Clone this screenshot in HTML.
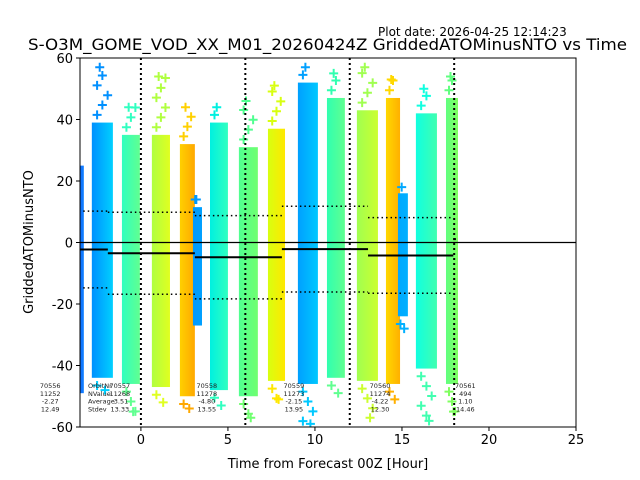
<!DOCTYPE html>
<html><head><meta charset="utf-8"><style>
body{margin:0;background:#fff}
svg{display:block;font-family:"DejaVu Sans","Liberation Sans",sans-serif}
</style></head><body>
<svg id="chart" width="640" height="480" viewBox="0 0 640 480">
<rect width="640" height="480" fill="#fff"/>
<text x="378" y="36" font-size="12">Plot date: 2026-04-25 12:14:23</text>
<text x="28" y="50" font-size="16" textLength="599" lengthAdjust="spacingAndGlyphs">S-O3M_GOME_VOD_XX_M01_20260424Z GriddedATOMinusNTO vs Time</text>
<defs><clipPath id="pa"><rect x="80" y="58" width="496" height="369"/></clipPath></defs>
<g id="marks" clip-path="url(#pa)"></g>
<g id="overlay" clip-path="url(#pa)"></g>
<g id="labels"></g>
<g id="axes"></g>
<text x="328" y="468" font-size="13" text-anchor="middle">Time from Forecast 00Z [Hour]</text>
<text transform="translate(33,242) rotate(-90)" font-size="13" text-anchor="middle">GriddedATOMinusNTO</text>
</svg>
<script>
// stripe data: start hour, end hour, dense top, dense bottom, max outlier, min outlier
const stripeStart=[-3.5,-2.82,-1.09,0.63,2.24,2.99,3.97,5.63,7.30,9.02,10.69,12.41,14.08,14.77,15.80,17.53];
const stripeEnd=[-3.28,-1.61,-0.06,1.67,3.10,3.51,5.0,6.72,8.28,10.17,11.72,13.62,14.89,15.34,17.01,18.22];
const stripeTop=[25,39,35,35,32,11.5,39,31,37,52,47,43,47,16,42,47];
const stripeBottom=[-49,-44,-46,-47,-50,-27,-48,-50,-45,-46,-44,-45,-46,-24,-41,-46];
const stripeMax=[25,57,44,54,44,14,44,46,51,57,55,57,53,18,50,54];
const stripeMin=[-49,-48,-55,-52,-54,-28,-53,-57,-51,-59,-49,-57,-51,-28,-58,-55];
const stripeColorA=["#1070ff","#0090ff","#30ffc0","#b0ff40","#ffd000","#0099ff","#00f0e0","#50ff90","#d8ff10","#00a0ff","#30ffb0","#a0ff50","#ffd800","#00a8ff","#10ffe0","#60ff80"];
const stripeColorB=["#1080ff","#00d0ff","#60ff90","#e0ff20","#ffa800","#00a0ff","#30ffc0","#70ff70","#ffe800","#00c8ff","#60ff90","#ccff30","#ffb000","#00b0ff","#40ffb0","#80ff60"];
// orbit statistics
const orbitNr=["70556","70557","70558","70559","70560","70561"];
const orbitN=["11252","11268","11278","11273","11274","494"];
const orbitStart=[-5.9,-1.9,3.1,8.1,13.05,17.95];
const orbitEnd=[-1.9,3.1,8.1,13.05,17.95,18.1];
const orbitMean=[-2.27,-3.51,-4.80,-2.15,-4.22,1.10];
const orbitStd=[12.49,13.33,13.55,13.95,12.30,14.46];
const xTicks=[0,5,10,15,20,25];
const yTicks=[-60,-40,-20,0,20,40,60];
const vLines=[0,6,12,18];

const NS="http://www.w3.org/2000/svg";
const X0=80,X1=576,Y0=58,Y1=427,XMIN=-3.5,XMAX=25,YMIN=-60,YMAX=60;
function xs(h){return X0+(h-XMIN)*(X1-X0)/(XMAX-XMIN);}
function ys(v){return Y0+(YMAX-v)*(Y1-Y0)/(YMAX-YMIN);}
function mk(tag,attrs,parent){const e=document.createElementNS(NS,tag);for(const k in attrs)e.setAttribute(k,attrs[k]);parent.appendChild(e);return e;}
const svg=document.getElementById('chart');
const defs=mk('defs',{},svg);
const marks=document.getElementById('marks');
const overlay=document.getElementById('overlay');
const labels=document.getElementById('labels');
const axes=document.getElementById('axes');

function plus(g,x,y,c){
  const p=mk('path',{d:`M${x-4.5},${y}H${x+4.5}M${x},${y-4.5}V${y+4.5}`,stroke:c,'stroke-width':2},g);
  
  
}
for(let i=0;i<stripeStart.length;i++){
  const gid='gr'+i;
  const lg=mk('linearGradient',{id:gid,x1:0,x2:1,y1:0,y2:0},defs);
  mk('stop',{offset:0,'stop-color':stripeColorA[i]},lg);
  mk('stop',{offset:1,'stop-color':stripeColorB[i]},lg);
  const g=mk('g',{},marks);
  
  
  const xa=xs(stripeStart[i]),xb=xs(stripeEnd[i]);
  const r=mk('rect',{x:xa,y:ys(stripeTop[i]),width:Math.max(xb-xa,2),height:ys(stripeBottom[i])-ys(stripeTop[i]),fill:'url(#'+gid+')'},g);
  
  
  const cx=(xa+xb)/2, w=(xb-xa)/4;
  let k=0;
  for(let v=stripeTop[i]+2.5;v<=stripeMax[i];v+=3.2){plus(g,cx+((k++%3)-1)*w,ys(v),stripeColorA[i]);}
  if(stripeMax[i]>stripeTop[i]+1)plus(g,cx-w*0.5,ys(stripeMax[i]),stripeColorA[i]);
  k=0;
  for(let v=stripeBottom[i]-2.5;v>=stripeMin[i];v-=3.2){plus(g,cx+((k++%3)-1)*w,ys(v),stripeColorB[i]);}
  if(stripeMin[i]<stripeBottom[i]-1)plus(g,cx+w*0.5,ys(stripeMin[i]),stripeColorB[i]);
}
let zl=mk('line',{x1:X0,x2:X1,y1:ys(0),y2:ys(0),stroke:'#000','stroke-width':1.2},overlay);


for(const h of vLines){
  const l=mk('line',{x1:xs(h),x2:xs(h),y1:Y0,y2:Y1,stroke:'#000','stroke-width':2,'stroke-dasharray':'2,3'},overlay);
  
  
}
for(let i=0;i<orbitNr.length;i++){
  const xa=xs(orbitStart[i]),xb=xs(orbitEnd[i]);
  const m=mk('line',{x1:xa,x2:xb,y1:ys(orbitMean[i]),y2:ys(orbitMean[i]),stroke:'#000','stroke-width':2},overlay);
  
  
  for(const s of [1,-1]){
    const d=mk('line',{x1:xa,x2:xb,y1:ys(orbitMean[i]+s*orbitStd[i]),y2:ys(orbitMean[i]+s*orbitStd[i]),stroke:'#000','stroke-width':1.5,'stroke-dasharray':'1.5,3'},overlay);
    
    
  }
  const lines=[orbitNr[i],orbitN[i],orbitMean[i].toFixed(2),orbitStd[i].toFixed(2)];
  lines.forEach((t,j)=>{
    const tx=mk('text',{x:xa+12,y:388+j*7.8,'font-size':6.5,'text-anchor':'middle',fill:'#222'},labels);
    tx.textContent=t;
    
    
  });
}
['OrbitNr','NValue','Average','Stdev'].forEach((t,j)=>{
  const tx=mk('text',{x:88,y:388+j*7.8,'font-size':6.5,fill:'#222'},labels);
  tx.textContent=t;
  
  
});
const fr=mk('rect',{x:X0,y:Y0,width:X1-X0,height:Y1-Y0,fill:'none',stroke:'#000','stroke-width':1},axes);


for(const t of xTicks){
  const l=mk('line',{x1:xs(t),x2:xs(t),y1:Y1,y2:Y1+4,stroke:'#000'},axes);
  
  
  const tx=mk('text',{x:xs(t),y:Y1+17,'font-size':13,'text-anchor':'middle'},axes);
  tx.textContent=t;
  
  
}
for(const t of yTicks){
  const l=mk('line',{x1:X0-4,x2:X0,y1:ys(t),y2:ys(t),stroke:'#000'},axes);
  
  
  const tx=mk('text',{x:X0-7,y:ys(t)+5,'font-size':13,'text-anchor':'end'},axes);
  tx.textContent=t;
  
  
}
</script>
</body></html>
